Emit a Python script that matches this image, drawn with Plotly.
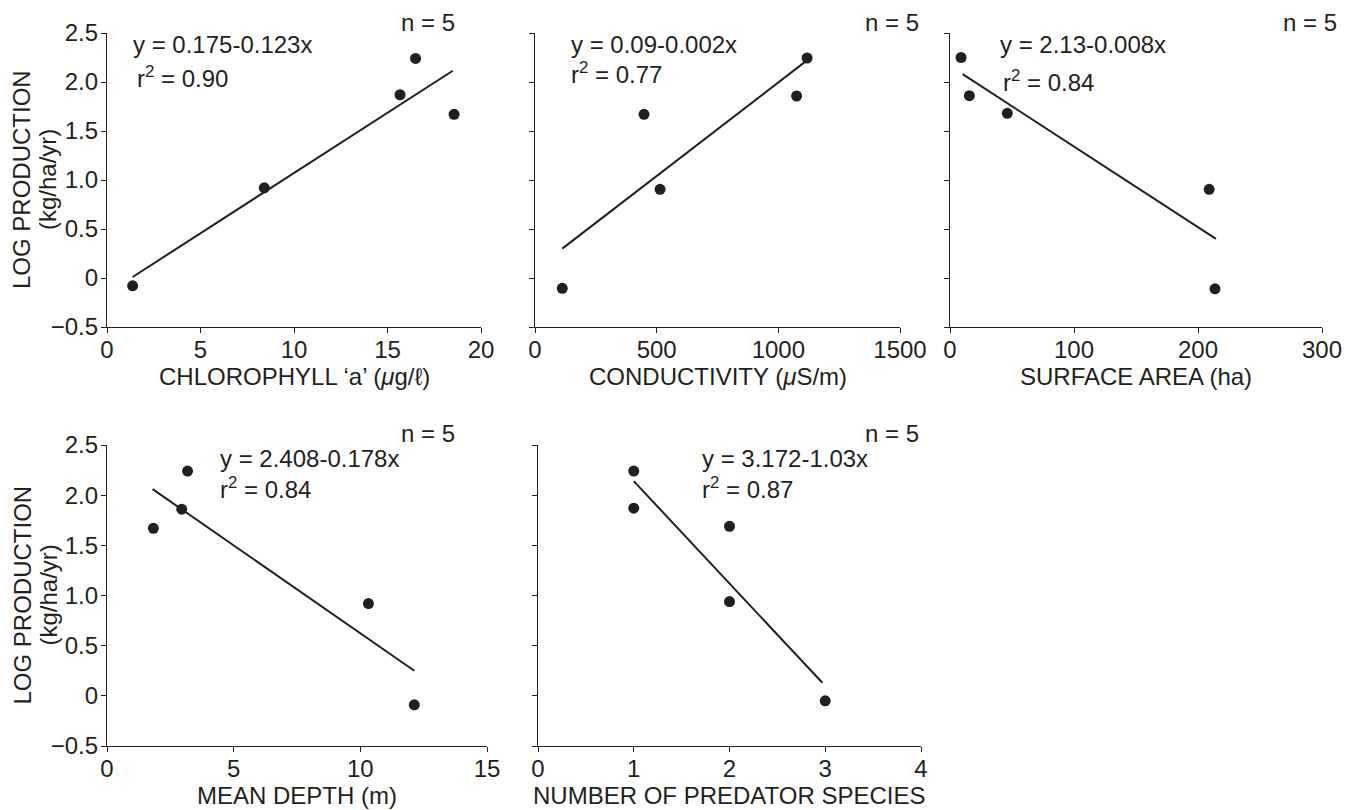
import plotly.graph_objects as go

# ---------------- data ----------------
chl_x = [1.37, 8.41, 15.67, 16.5, 18.56]
chl_y = [-0.08, 0.92, 1.87, 2.24, 1.67]
chl_fit_x = [1.37, 18.49]
chl_fit_y = [0.01, 2.115]

cond_x = [112, 448, 514, 1075, 1118]
cond_y = [-0.105, 1.67, 0.905, 1.857, 2.245]
cond_fit_x = [112, 1107]
cond_fit_y = [0.30, 2.20]

area_x = [8.9, 15.6, 46.2, 209, 213.7]
area_y = [2.25, 1.86, 1.68, 0.905, -0.11]
area_fit_x = [10.2, 214.5]
area_fit_y = [2.08, 0.40]

depth_x = [1.83, 2.95, 3.18, 10.32, 12.13]
depth_y = [1.67, 1.86, 2.24, 0.92, -0.09]
depth_fit_x = [1.80, 12.13]
depth_fit_y = [2.06, 0.25]

pred_x = [1, 1, 2, 2, 3]
pred_y = [2.24, 1.87, 1.69, 0.94, -0.05]
pred_fit_x = [1, 2.97]
pred_fit_y = [2.14, 0.13]

x_titles = ["CHLOROPHYLL \u2018a\u2019 (<i>\u03bc</i>g/\u2113)", "CONDUCTIVITY (<i>\u03bc</i>S/m)",
            "SURFACE AREA (ha)", "MEAN DEPTH (m)", "NUMBER OF PREDATOR SPECIES"]
equations = ["y = 0.175-0.123x", "y = 0.09-0.002x", "y = 2.13-0.008x",
             "y = 2.408-0.178x", "y = 3.172-1.03x"]
r2_texts = ["r<sup>2</sup> = 0.90", "r<sup>2</sup> = 0.77", "r<sup>2</sup> = 0.84",
            "r<sup>2</sup> = 0.84", "r<sup>2</sup> = 0.87"]
n_text = "n = 5"

x_ticks = [[0, 5, 10, 15, 20], [0, 500, 1000, 1500], [0, 100, 200, 300],
           [0, 5, 10, 15], [0, 1, 2, 3, 4]]
y_tickvals = [2.5, 2.0, 1.5, 1.0, 0.5, 0, -0.5]
y_ticktext = ["2.5", "2.0", "1.5", "1.0", "0.5", "0", "\u22120.5"]

# annotation anchor positions (data coords)
eq_pos = [(1.3, 2.38), (140, 2.38), (38.5, 2.38), (4.4, 2.37), (1.69, 2.37)]
r2_pos = [(1.5, 2.05), (140, 2.09), (41.0, 2.01), (4.4, 2.07), (1.69, 2.07)]
# "n = 5" right-edge / centre positions (window pixels, outside the plot areas)
n_px = [(457, 22), (921, 22), (1339, 22), (457, 433), (921, 433)]

panels = [
    (chl_x, chl_y, chl_fit_x, chl_fit_y),
    (cond_x, cond_y, cond_fit_x, cond_fit_y),
    (area_x, area_y, area_fit_x, area_fit_y),
    (depth_x, depth_y, depth_fit_x, depth_fit_y),
    (pred_x, pred_y, pred_fit_x, pred_fit_y),
]

OFF = 8  # default page body margin
W, H = 1351 - OFF, 810 - OFF
INK = "#231f20"
FONT = "Liberation Sans, Arial, sans-serif"
FS = 24


def px_x(p):
    return (p - OFF) / W


def px_y(p):
    return 1 - (p - OFF) / H


# pixel boxes in window coords (left, right, top, bottom)
boxes = [(107, 481, 33, 327), (535, 900, 33, 327), (950, 1322, 33, 327),
         (107, 487, 445, 746), (538, 921, 445, 746)]

fig = go.Figure()
layout = dict(width=W, height=H, margin=dict(l=0, r=0, t=0, b=0),
              paper_bgcolor="white", plot_bgcolor="white", showlegend=False,
              font=dict(family=FONT, size=FS, color=INK))
annotations = []
tfont = dict(size=FS, color=INK, family=FONT)

for i, (px, py, fx, fy) in enumerate(panels):
    k = "" if i == 0 else str(i + 1)
    xa, ya = "x" + k, "y" + k
    fig.add_trace(go.Scatter(x=fx, y=fy, mode="lines", xaxis=xa, yaxis=ya,
                             line=dict(color=INK, width=2), hoverinfo="skip"))
    fig.add_trace(go.Scatter(x=px, y=py, mode="markers", xaxis=xa, yaxis=ya,
                             marker=dict(color=INK, size=11), cliponaxis=False))
    l, r, t, b = boxes[i]
    xt = x_ticks[i]
    layout["xaxis" + k] = dict(domain=[px_x(l), px_x(r)], anchor=ya, range=[xt[0], xt[-1]],
                               tickvals=xt, ticks="outside", ticklen=5, tickwidth=1.3,
                               tickcolor=INK, showline=True, linecolor=INK, linewidth=1.3,
                               showgrid=False, zeroline=False, automargin=False,
                               ticklabelstandoff=-4, tickfont=tfont)
    layout["yaxis" + k] = dict(domain=[px_y(b), px_y(t)], anchor=xa, range=[-0.5, 2.5],
                               tickvals=y_tickvals, ticktext=y_ticktext,
                               showticklabels=(i in (0, 3)),
                               ticks="outside", ticklen=5, tickwidth=1.3, tickcolor=INK,
                               showline=True, linecolor=INK, linewidth=1.3,
                               showgrid=False, zeroline=False, automargin=False,
                               ticklabelstandoff=-2, tickfont=tfont)
    annotations.append(dict(text=x_titles[i], xref="paper", yref="paper",
                            x=px_x((l + r) / 2), y=px_y(b + 49), xanchor="center",
                            yanchor="middle", showarrow=False, font=tfont))
    annotations.append(dict(text=equations[i], xref=xa, yref=ya, x=eq_pos[i][0], y=eq_pos[i][1],
                            xanchor="left", yanchor="middle", showarrow=False, font=tfont))
    annotations.append(dict(text=r2_texts[i], xref=xa, yref=ya, x=r2_pos[i][0], y=r2_pos[i][1],
                            xanchor="left", yanchor="middle", showarrow=False, font=tfont))
    annotations.append(dict(text=n_text, xref="paper", yref="paper",
                            x=px_x(n_px[i][0]), y=px_y(n_px[i][1]),
                            xanchor="right", yanchor="middle", showarrow=False, font=tfont))

# y axis titles (two lines, rotated)
for (t, b) in [(33, 327), (445, 746)]:
    cy = px_y((t + b) / 2)
    annotations.append(dict(text="LOG PRODUCTION", xref="paper", yref="paper", x=px_x(22), y=cy,
                            xanchor="center", yanchor="middle", textangle=-90, showarrow=False,
                            font=tfont))
    annotations.append(dict(text="(kg/ha/yr)", xref="paper", yref="paper", x=px_x(48), y=cy,
                            xanchor="center", yanchor="middle", textangle=-90, showarrow=False,
                            font=tfont))

layout["annotations"] = annotations
fig.update_layout(**layout)
fig.write_html("out.html")
